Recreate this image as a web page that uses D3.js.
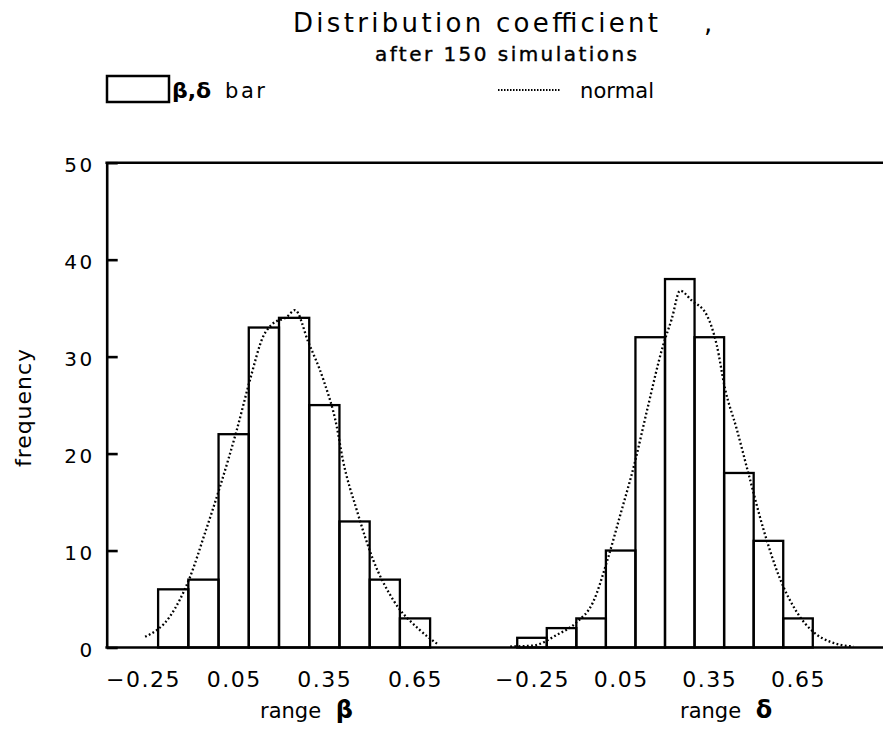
<!DOCTYPE html>
<html><head><meta charset="utf-8">
<script src="https://cdn.jsdelivr.net/npm/d3@7"></script>
<style>body{margin:0;background:#fff}</style></head>
<body><svg id="c" width="883" height="731"></svg>
<script>
// ---- data ----
const betaCenters = [-0.15,-0.05,0.05,0.15,0.25,0.35,0.45,0.55,0.65];
const betaFreq    = [6,7,22,33,34,25,13,7,3];
const deltaCenters = [-0.25,-0.15,-0.05,0.05,0.15,0.25,0.35,0.45,0.55,0.65];
const deltaFreq    = [1,2,3,10,32,38,32,18,11,3];
const betaNormX = [-0.243,-0.161,-0.094,-0.045,0.005,0.060,0.104,0.148,0.176,0.226,0.253,0.297,0.347,0.391,0.411,0.457,0.512,0.578,0.666,0.727];
const betaNormY = [1.1,3.2,7.3,11.8,16.6,22.4,27.6,32.1,33.3,34.1,34.8,31.5,27.6,22.8,19.4,14.2,9.0,4.9,1.8,0.3];
const deltaNormX = [-0.324,-0.246,-0.166,-0.099,-0.043,0.003,0.048,0.098,0.138,0.194,0.223,0.251,0.290,0.341,0.375,0.403,0.442,0.487,0.532,0.589,0.645,0.702,0.758,0.837];
const deltaNormY = [0.1,0.2,1.3,2.6,4.7,8.8,13.6,19.1,24.3,31.2,33.9,36.8,35.8,34.3,31.2,26.7,22.6,17.4,12.3,7.1,3.7,1.6,0.6,0.1];
const xTickLabels = [-0.25,0.05,0.35,0.65];
const yTickValues = [0,10,20,30,40,50];
const binWidth = 0.1;
const titleText = "Distribution coefficient";
const subtitleText = "after  150  simulations";

// ---- layout ----
const svg = d3.select("#c");
const FONT = "DejaVu Sans";
const x0 = 106.7, xEnd = 883;
const y = d3.scaleLinear().domain([0,50]).range([647.5,162.7]);
const xBeta = d3.scaleLinear().domain([-0.25,0.65]).range([143,415]);
const xDelta = d3.scaleLinear().domain([-0.25,0.65]).range([532,798]);

// title
svg.append("text").attr("x",293).attr("y",32).attr("font-family",FONT).attr("font-size",26)
  .attr("textLength",365).attr("lengthAdjust","spacing").text(titleText);
svg.append("text").attr("x",704).attr("y",32).attr("font-family",FONT).attr("font-size",26).text(",");
svg.append("text").attr("x",375).attr("y",61).attr("font-family",FONT).attr("font-size",20)
  .attr("textLength",262).attr("lengthAdjust","spacing").attr("stroke","#000").attr("stroke-width",0.4).text(subtitleText);

// legend
svg.append("rect").attr("x",107).attr("y",76).attr("width",62).attr("height",26)
  .attr("fill","#fff").attr("stroke","#000").attr("stroke-width",2.5);
svg.append("text").attr("x",172).attr("y",98).attr("font-family",FONT).attr("font-size",22).attr("font-weight","bold").text("β,δ");
svg.append("text").attr("x",225).attr("y",98).attr("font-family",FONT).attr("font-size",21)
  .attr("textLength",40).attr("lengthAdjust","spacing").text("bar");
svg.append("line").attr("x1",498).attr("x2",560).attr("y1",90).attr("y2",90)
  .attr("stroke","#000").attr("stroke-width",2).attr("stroke-dasharray","1.5,1.5");
svg.append("text").attr("x",580).attr("y",98).attr("font-family",FONT).attr("font-size",21)
  .attr("textLength",74).attr("lengthAdjust","spacing").text("normal");

// y axis
const yAxis = svg.append("g").attr("transform",`translate(${x0},0)`)
  .call(d3.axisLeft(y).tickValues(yTickValues).tickSizeInner(-11).tickSizeOuter(0).tickPadding(12).tickFormat(d3.format("d")));
yAxis.select(".domain").attr("stroke-width",2.6);
yAxis.selectAll(".tick line").attr("stroke-width",2.6);
yAxis.selectAll("text").attr("font-family",FONT).attr("font-size",20).attr("letter-spacing",2.5)
  .attr("fill","#000").attr("dy","0.45em");

// frame: top line and baseline
svg.append("line").attr("x1",x0-1.3).attr("x2",xEnd).attr("y1",y(50)).attr("y2",y(50)).attr("stroke","#000").attr("stroke-width",2.6);
svg.append("line").attr("x1",x0-1.3).attr("x2",xEnd).attr("y1",y(0)).attr("y2",y(0)).attr("stroke","#000").attr("stroke-width",2.6);

// y label
svg.append("text").attr("transform","translate(31,408) rotate(-90)").attr("text-anchor","middle")
  .attr("font-family",FONT).attr("font-size",22).attr("textLength",118).attr("lengthAdjust","spacing").text("frequency");

// histograms
function panel(xs, centers, freq, nx, ny, letter, labelX){
  svg.append("g").selectAll("rect").data(centers).join("rect")
    .attr("x",(d)=>xs(d-binWidth/2))
    .attr("width",(d)=>xs(d+binWidth/2)-xs(d-binWidth/2))
    .attr("y",(d,i)=>y(freq[i]))
    .attr("height",(d,i)=>y(0)-y(freq[i]))
    .attr("fill","none").attr("stroke","#000").attr("stroke-width",2.3);
  const pts = nx.map((v,i)=>[v,ny[i]]);
  svg.append("path").datum(pts)
    .attr("d",d3.line().x(d=>xs(d[0])).y(d=>y(d[1])).curve(d3.curveMonotoneX))
    .attr("fill","none").attr("stroke","#000").attr("stroke-width",2.3).attr("stroke-dasharray","1.8,2.4");
  const ax = svg.append("g").attr("transform",`translate(0,${y(0)})`)
    .call(d3.axisBottom(xs).tickValues(xTickLabels).tickSize(0).tickPadding(24).tickFormat(d3.format(".2f")));
  ax.select(".domain").remove();
  ax.selectAll("text").attr("font-family",FONT).attr("font-size",22).attr("letter-spacing",1.5).attr("fill","#000");
  const t = svg.append("text").attr("x",labelX).attr("y",718).attr("font-family",FONT).attr("font-size",21);
  t.append("tspan").text("range ");
  t.append("tspan").attr("dx",8).attr("font-weight","bold").attr("font-size",24).text(letter);
}
panel(xBeta, betaCenters, betaFreq, betaNormX, betaNormY, "β", 260);
panel(xDelta, deltaCenters, deltaFreq, deltaNormX, deltaNormY, "δ", 680);
</script></body></html>
